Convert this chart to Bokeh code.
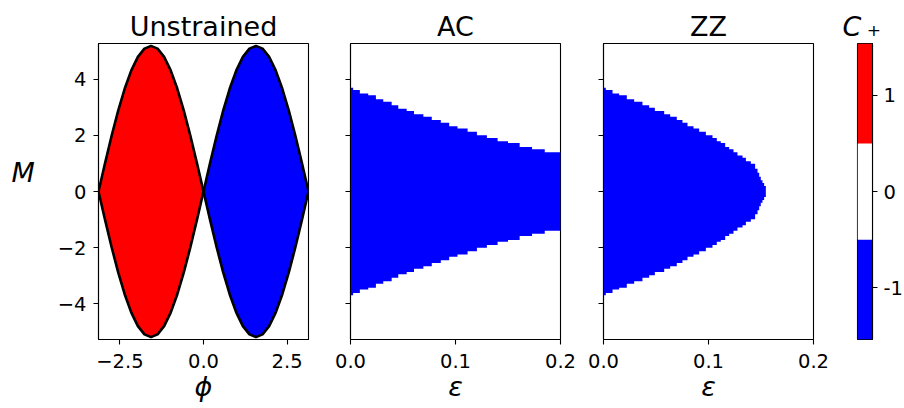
import numpy as np
from bokeh.plotting import figure
from bokeh.layouts import row
from bokeh.models import Range1d, FixedTicker
from bokeh.embed import file_html
from bokeh.resources import INLINE

# ---------------- data ----------------
phi = [-3.1416, -2.9452, -2.7489, -2.5525, -2.3562, -2.1598, -1.9635, -1.7671,
       -1.5708, -1.3744, -1.1781, -0.9817, -0.7854, -0.5890, -0.3927, -0.1963,
       0.0, 0.1963, 0.3927, 0.5890, 0.7854, 0.9817, 1.1781, 1.3744,
       1.5708, 1.7671, 1.9635, 2.1598, 2.3562, 2.5525, 2.7489, 2.9452, 3.1416]
m_curve = [0.0, -1.014, -1.988, -2.887, -3.674, -4.321, -4.801, -5.096,
           -5.196, -5.096, -4.801, -4.321, -3.674, -2.887, -1.988, -1.014,
           0.0, 1.014, 1.988, 2.887, 3.674, 4.321, 4.801, 5.096,
           5.196, 5.096, 4.801, 4.321, 3.674, 2.887, 1.988, 1.014, 0.0]

ac_eps_edges = [0.0, 0.0025, 0.0089, 0.0169, 0.0242, 0.0312, 0.0392, 0.0455,
                0.0535, 0.0605, 0.0694, 0.0774, 0.0860, 0.0940, 0.1019, 0.1115,
                0.1204, 0.1299, 0.1401, 0.1500, 0.1611, 0.1729, 0.1850, 0.2000]
ac_m_top = [3.70, 3.62, 3.50, 3.43, 3.29, 3.20, 3.08, 2.95, 2.87, 2.76, 2.67,
            2.55, 2.45, 2.33, 2.25, 2.13, 2.01, 1.91, 1.79, 1.73, 1.59, 1.51, 1.40]

zz_eps_edges = [0.0, 0.0022, 0.0086, 0.0149, 0.0222, 0.0292, 0.0371, 0.0435,
                0.0489, 0.0578, 0.0635, 0.0698, 0.0752, 0.0800, 0.0857, 0.0911,
                0.0975, 0.1038, 0.1079, 0.1117, 0.1159, 0.1197, 0.1238, 0.1276,
                0.1324, 0.1356, 0.1403, 0.1444, 0.1467, 0.1483, 0.1498, 0.1514,
                0.1530, 0.1546]
zz_m_top = [3.70, 3.62, 3.50, 3.43, 3.29, 3.20, 3.08, 2.99, 2.87, 2.76, 2.67,
            2.55, 2.45, 2.33, 2.25, 2.13, 2.01, 1.91, 1.79, 1.73, 1.59, 1.51,
            1.40, 1.28, 1.20, 1.08, 0.99, 0.81, 0.67, 0.53, 0.40, 0.30, 0.20]

cbar_ticks = [-1, 0, 1]
cbar_tick_labels = ["-1", "0", "1"]
cbar_edges = [-1.54, -0.5, 0.5, 1.54]
cbar_colors = ["#0000ff", "#ffffff", "#ff0000"]
cbar_title = "C\u2009\u208a"

titles = ["Unstrained", "AC", "ZZ"]
y_ticks = [-4, -2, 0, 2, 4]
y_tick_labels = ["\u22124", "\u22122", "0", "2", "4"]
phi_ticks = [-2.5, 0.0, 2.5]
phi_tick_labels = ["\u22122.5", "0.0", "2.5"]
eps_ticks = [0.0, 0.1, 0.2]
eps_tick_labels = ["0.0", "0.1", "0.2"]
m_lim = 5.28

# ---------------- style / layout ----------------
FONT = "DejaVu Sans"
TICK_PX = "19.5px"
BIG_PX = "27px"
RED = "#ff0000"
BLUE = "#0000ff"
TOP = 43
FH = 296
BOTTOM = 64
FW = 210


def style(p):
    p.outline_line_color = "black"
    p.outline_line_width = 1.1
    p.grid.visible = False
    p.background_fill_color = "white"
    p.border_fill_color = "white"
    p.title.text_font = FONT
    p.title.text_font_size = BIG_PX
    p.title.text_font_style = "normal"
    p.title.text_color = "black"
    p.title.align = "center"
    p.title.standoff = 4
    for ax in p.axis:
        ax.axis_line_color = "black"
        ax.axis_line_width = 1.1
        ax.major_tick_line_color = "black"
        ax.major_tick_line_width = 1.1
        ax.major_tick_out = 5
        ax.major_tick_in = 0
        ax.minor_tick_line_color = None
        ax.major_label_text_font = FONT
        ax.major_label_text_font_size = TICK_PX
        ax.major_label_text_color = "black"
        ax.axis_label_text_font = FONT
        ax.axis_label_text_font_size = BIG_PX
        ax.axis_label_text_font_style = "italic"
        ax.axis_label_text_color = "black"


def make_panel(title, x_range, xticks, xlabels, xlabel, left, right, ylabels):
    p = figure(frame_width=FW, frame_height=FH, x_range=x_range,
               y_range=Range1d(-m_lim, m_lim), output_backend="svg",
               toolbar_location=None, title=title,
               min_border_left=left, min_border_right=right,
               min_border_top=TOP, min_border_bottom=BOTTOM)
    style(p)
    p.xaxis.ticker = FixedTicker(ticks=xticks)
    p.xaxis.major_label_overrides = dict(zip(xticks, xlabels))
    p.xaxis.major_label_standoff = 9
    p.xaxis.axis_label = xlabel
    p.xaxis.axis_label_standoff = 0
    p.yaxis.ticker = FixedTicker(ticks=y_ticks)
    if ylabels:
        p.yaxis.major_label_overrides = dict(zip(y_ticks, y_tick_labels))
        p.yaxis.major_label_standoff = 7
    else:
        p.yaxis.major_label_overrides = {t: "" for t in y_ticks}
        p.yaxis.major_label_standoff = 0
    return p


def step_band(edges, tops):
    """Closed staircase polygon spanning -top..top for each eps bin."""
    xs, ys = [], []
    for i, t in enumerate(tops):
        xs += [edges[i], edges[i + 1]]
        ys += [t, t]
    for i in range(len(tops) - 1, -1, -1):
        xs += [edges[i + 1], edges[i]]
        ys += [-tops[i], -tops[i]]
    return xs, ys


# Panel 1: unstrained
p1 = make_panel(titles[0], Range1d(-np.pi, np.pi), phi_ticks, phi_tick_labels,
                "\u03d5", 98, 20, True)
p1.yaxis.axis_label = "M\n "
p1.yaxis.axis_label_orientation = "horizontal"
p1.yaxis.axis_label_standoff = 20
half = phi.index(0.0)
neg_phi, neg_m = phi[:half + 1], m_curve[:half + 1]
pos_phi, pos_m = phi[half:], m_curve[half:]
p1.varea(x=neg_phi, y1=neg_m, y2=[-v for v in neg_m], fill_color=RED)
p1.varea(x=pos_phi, y1=pos_m, y2=[-v for v in pos_m], fill_color=BLUE)
p1.line(phi, m_curve, line_color="black", line_width=2.6)
p1.line(phi, [-v for v in m_curve], line_color="black", line_width=2.6)

# Panel 2: AC
p2 = make_panel(titles[1], Range1d(0.0, 0.2), eps_ticks, eps_tick_labels,
                "\u03b5", 22, 21, False)
ax_, ay_ = step_band(ac_eps_edges, ac_m_top)
p2.patch(ax_, ay_, fill_color=BLUE, line_color=None)

# Panel 3: ZZ
p3 = make_panel(titles[2], Range1d(0.0, 0.2), eps_ticks, eps_tick_labels,
                "\u03b5", 22, 20, False)
zx_, zy_ = step_band(zz_eps_edges, zz_m_top)
p3.patch(zx_, zy_, fill_color=BLUE, line_color=None)

# Colorbar
pc = figure(frame_width=15, frame_height=FH, x_range=Range1d(0, 1),
            y_range=Range1d(cbar_edges[0], cbar_edges[-1]),
            output_backend="svg", toolbar_location=None,
            x_axis_type=None, y_axis_location="right", title=cbar_title,
            min_border_left=24, min_border_right=0,
            min_border_top=TOP, min_border_bottom=BOTTOM)
style(pc)
pc.title.align = "left"
pc.title.offset = -15
pc.title.text_font_style = "italic"
pc.yaxis.ticker = FixedTicker(ticks=cbar_ticks)
pc.yaxis.major_label_overrides = dict(zip(cbar_ticks, cbar_tick_labels))
pc.yaxis.major_label_standoff = 6
pc.quad(left=0, right=1, bottom=cbar_edges[:-1], top=cbar_edges[1:],
        fill_color=cbar_colors, line_color=None)

layout = row(p1, p2, p3, pc)
open("out.html", "w").write(file_html(layout, INLINE))
